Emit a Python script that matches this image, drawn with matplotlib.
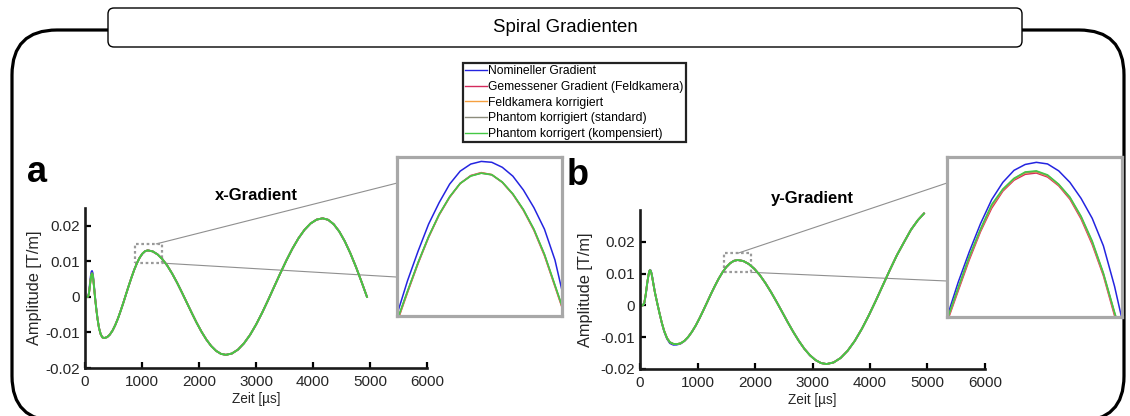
import numpy as np
import matplotlib.pyplot as plt
from matplotlib.patches import FancyBboxPatch, Rectangle, ConnectionPatch
from matplotlib.lines import Line2D

plt.rcParams['font.family'] = ['Liberation Sans', 'DejaVu Sans']

#%% gradient waveforms (time in us, amplitude in T/m)
t_x = [0, 40, 55, 70, 85, 100, 112, 123, 134, 145, 160, 180, 200, 220, 245, 275, 305, 340,
       388, 435, 483, 530, 578, 625, 673, 720, 768, 816, 863, 911, 958, 1006, 1053, 1101,
       1187, 1272, 1358, 1444, 1529, 1615, 1700, 1786, 1872, 1957, 2043, 2129, 2214, 2300, 2385, 2471,
       2577, 2683, 2789, 2896, 3002, 3108, 3214, 3320, 3427, 3533, 3639, 3745, 3851, 3957, 4063, 4169,
       4266, 4364, 4461, 4558, 4655, 4753, 4850, 4947]
gx_meas = [0, 0, 0.0001, 0.0010, 0.0030, 0.0050, 0.0062, 0.0066, 0.0062, 0.0050, 0.0025, -0.0008,
           -0.0037, -0.0062, -0.0087, -0.0105, -0.0114, -0.01156,
           -0.01132, -0.01062, -0.00948, -0.00795, -0.00608, -0.00395, -0.00164, 0.00076, 0.00316,
           0.00547, 0.00760, 0.00947, 0.01100, 0.01214, 0.01284, 0.01308,
           0.01280, 0.01196, 0.01060, 0.00878, 0.00655, 0.00401, 0.00126, -0.00161, -0.00448,
           -0.00723, -0.00977, -0.01200, -0.01382, -0.01518, -0.01602, -0.0163,
           -0.01593, -0.01484, -0.01306, -0.01068, -0.00777, -0.00445, -0.00085, 0.0029, 0.00665,
           0.01025, 0.01357, 0.01648, 0.01886, 0.02064, 0.02173, 0.0221,
           0.02168, 0.02042, 0.01838, 0.01563, 0.01228, 0.00846, 0.00431, 0.0]
gx_nom = [0, 0, 0.0002, 0.0013, 0.0036, 0.0058, 0.0070, 0.0073, 0.0068, 0.0055, 0.0029, -0.0005,
          -0.0035, -0.0061, -0.0087, -0.0105, -0.0114, -0.01156,
          -0.01132, -0.01062, -0.00948, -0.00795, -0.00608, -0.00395, -0.00164, 0.00076, 0.00316,
          0.00547, 0.00760, 0.00947, 0.01100, 0.01214, 0.01284, 0.01308,
          0.01280, 0.01196, 0.01060, 0.00878, 0.00655, 0.00401, 0.00126, -0.00161, -0.00448,
          -0.00723, -0.00977, -0.01200, -0.01382, -0.01518, -0.01602, -0.0163,
          -0.01593, -0.01484, -0.01306, -0.01068, -0.00777, -0.00445, -0.00085, 0.0029, 0.00665,
          0.01025, 0.01357, 0.01648, 0.01886, 0.02064, 0.02173, 0.0221,
          0.02168, 0.02042, 0.01838, 0.01563, 0.01228, 0.00846, 0.00431, 0.0]

t_y = [0, 50, 75, 100, 125, 150, 162, 174, 187, 200, 215, 230, 260, 300, 340, 380, 420, 470,
       520, 580, 638, 704, 771, 837, 903, 970, 1036, 1102, 1169, 1235, 1302, 1368, 1434, 1500,
       1567, 1633, 1699, 1796, 1892, 1989, 2086, 2182, 2279, 2376, 2473, 2569, 2666, 2763, 2859,
       2956, 3053, 3149, 3246, 3368, 3490, 3612, 3735, 3857, 3979, 4101, 4223, 4345, 4467, 4590,
       4712, 4834, 4939]
gy_meas = [0, 0, 0.0008, 0.0035, 0.0070, 0.0098, 0.0107, 0.0111, 0.0108, 0.0100, 0.0086, 0.0070,
           0.0040, 0.0007, -0.0025, -0.0055, -0.0080, -0.0103, -0.0116, -0.0121, -0.01219,
           -0.01194, -0.01118, -0.00996, -0.00831, -0.00631, -0.00402, -0.00154, 0.00104, 0.00362,
           0.00610, 0.00839, 0.01039, 0.01204, 0.01326, 0.01402, 0.01427, 0.01396, 0.01302,
           0.01151, 0.00948, 0.00700, 0.00417, 0.00110, -0.00209, -0.00528, -0.00835, -0.01118,
           -0.01366, -0.01569, -0.01720, -0.01814, -0.01844, -0.01793, -0.01652, -0.01424,
           -0.01117, -0.00742, -0.00315, 0.00148, 0.0063, 0.01112, 0.01575, 0.01982, 0.02377,
           0.02684, 0.0289]
gy_nom = [0, 0, 0.0006, 0.0032, 0.0068, 0.0098, 0.0108, 0.0112, 0.0110, 0.0102, 0.0088, 0.0072,
          0.0041, 0.0007, -0.0025, -0.0056, -0.0082, -0.0105, -0.0119, -0.0124, -0.01235,
          -0.01205, -0.01122, -0.00996, -0.00831, -0.00631, -0.00402, -0.00154, 0.00104, 0.00362,
          0.00610, 0.00839, 0.01039, 0.01204, 0.01326, 0.01402, 0.01427, 0.01396, 0.01302,
          0.01151, 0.00948, 0.00700, 0.00417, 0.00110, -0.00209, -0.00528, -0.00835, -0.01118,
          -0.01366, -0.01569, -0.01720, -0.01814, -0.01844, -0.01793, -0.01652, -0.01424,
          -0.01117, -0.00742, -0.00315, 0.00148, 0.0063, 0.01112, 0.01575, 0.01982, 0.02377,
          0.02684, 0.0289]

# zoomed samples around the marked peak of each gradient
tz_x = [880, 910, 940, 970, 1000, 1030, 1060, 1090, 1120, 1150, 1180, 1210, 1240, 1270, 1300, 1330, 1360]
zx_nom = [0.00955, 0.01070, 0.01170, 0.01262, 0.01335, 0.01398, 0.01442, 0.01466, 0.01475,
          0.01472, 0.01455, 0.01425, 0.01378, 0.01318, 0.01245, 0.01140, 0.00985]
zx_meas = [0.00928, 0.01030, 0.01128, 0.01217, 0.01293, 0.01353, 0.01400, 0.01427, 0.01437,
           0.01430, 0.01404, 0.01363, 0.01309, 0.01241, 0.01155, 0.01050, 0.00944]
zx_fc = [0.00930, 0.01032, 0.01130, 0.01218, 0.01294, 0.01354, 0.01400, 0.01426, 0.01436,
         0.01430, 0.01404, 0.01364, 0.01310, 0.01243, 0.01157, 0.01052, 0.00946]
zx_std = [0.00933, 0.01034, 0.01131, 0.01219, 0.01295, 0.01355, 0.01401, 0.01426, 0.01435,
          0.01429, 0.01404, 0.01364, 0.01311, 0.01244, 0.01159, 0.01054, 0.00948]
zx_comp = [0.00935, 0.01035, 0.01132, 0.01220, 0.01295, 0.01355, 0.01400, 0.01425, 0.01435,
           0.01430, 0.01405, 0.01365, 0.01312, 0.01245, 0.01160, 0.01055, 0.00950]

tz_y = [1460, 1490, 1520, 1550, 1580, 1610, 1640, 1670, 1700, 1730, 1760, 1790, 1820, 1850, 1880, 1910, 1940]
zy_nom = [0.01040, 0.01170, 0.01285, 0.01390, 0.01480, 0.01545, 0.01590, 0.01612, 0.01620,
          0.01614, 0.01588, 0.01545, 0.01485, 0.01410, 0.01307, 0.01155, 0.00970]
zy_meas = [0.01020, 0.01138, 0.01255, 0.01360, 0.01448, 0.01512, 0.01553, 0.01575, 0.01580,
           0.01565, 0.01532, 0.01482, 0.01408, 0.01312, 0.01195, 0.01045, 0.00905]
zy_fc = [0.01025, 0.01144, 0.01262, 0.01365, 0.01455, 0.01516, 0.01557, 0.01580, 0.01584,
         0.01569, 0.01535, 0.01486, 0.01413, 0.01318, 0.01200, 0.01052, 0.00912]
zy_std = [0.01028, 0.01147, 0.01265, 0.01368, 0.01459, 0.01518, 0.01559, 0.01582, 0.01586,
          0.01571, 0.01537, 0.01488, 0.01416, 0.01322, 0.01203, 0.01056, 0.00916]
zy_comp = [0.01030, 0.01150, 0.01268, 0.01370, 0.01462, 0.01520, 0.01560, 0.01584, 0.01588,
           0.01573, 0.01538, 0.01490, 0.01418, 0.01325, 0.01205, 0.01058, 0.00920]

labels = ['Nomineller Gradient', 'Gemessener Gradient (Feldkamera)', 'Feldkamera korrigiert',
          'Phantom korrigiert (standard)', 'Phantom korrigert (kompensiert)']
colors = ['#2424e0', '#d42a5c', '#f5a040', '#8c8c7c', '#44c844']

yticks = [-0.02, -0.01, 0, 0.01, 0.02]
yticklabels = ['-0.02', '-0.01', '0', '0.01', '0.02']
xticks = [0, 1000, 2000, 3000, 4000, 5000, 6000]

W, H = 1130, 416
fig = plt.figure(figsize=(W / 100, H / 100), dpi=100)

def box(x0, y0, x1, y1):
    # pixel box (top-left origin) -> figure fraction rect
    return [x0 / W, 1 - y1 / H, (x1 - x0) / W, (y1 - y0) / H]

#%% frame and heading (background axes in pixel units, y measured upwards)
bg = fig.add_axes([0, 0, 1, 1], zorder=0)
bg.set_xlim(0, W)
bg.set_ylim(0, H)
bg.axis('off')
bg.add_patch(FancyBboxPatch((12, H - 421), 1112, 391, boxstyle='round,pad=0,rounding_size=45',
                            fill=False, ec='black', lw=2.3, clip_on=False))
bg.add_patch(FancyBboxPatch((108, H - 47), 914, 39, boxstyle='round,pad=0,rounding_size=6',
                            fc='white', ec='black', lw=1.0))
bg.text(565, H - 28, 'Spiral Gradienten', ha='center', va='center', fontsize=13.4)


def main_panel(rect, t, nom, meas, ymax, title, letter, letter_pos, ylab_x):
    ax = fig.add_axes(rect, zorder=2)
    # the three corrected curves coincide with the measured one at full scale
    for y, c in zip([nom, meas, meas, meas, meas], colors):
        ax.plot(t, y, color=c, lw=1.3)
    ax.set_xlim(0, 6000)
    ax.set_ylim(-0.02, ymax)
    ax.set_xticks(xticks)
    ax.set_xticklabels([str(v) for v in xticks])
    ax.set_yticks(yticks)
    ax.set_yticklabels(yticklabels)
    for s in ['top', 'right']:
        ax.spines[s].set_visible(False)
    for s in ['left', 'bottom']:
        ax.spines[s].set_linewidth(1.9)
        ax.spines[s].set_color('#1a1a1a')
    ax.tick_params(direction='in', length=4, width=1.6, labelsize=11, labelcolor='#262626')
    ax.tick_params(axis='x', pad=5)
    ax.tick_params(axis='y', pad=3.5)
    ax.patch.set_alpha(0)
    ax.set_ylabel('Amplitude [T/m]', fontsize=11.8, color='#262626')
    ax.yaxis.set_label_coords(ylab_x, 0.5)
    ax.set_xlabel('Zeit [µs]', fontsize=9.8, color='#262626')
    ax.xaxis.set_label_coords(0.5, -0.15)
    ax.text(0.5, 1.075, title, transform=ax.transAxes, ha='center', va='center',
            fontsize=12, fontweight='bold')
    fig.text(letter_pos[0] / W, 1 - letter_pos[1] / H, letter, fontsize=26,
             fontweight='bold', ha='left', va='baseline')
    return ax


def zoom_panel(rect, t, series, xlim, ylim, ax_main, start_up, start_lo, yb_up, yb_lo):
    axz = fig.add_axes(rect, zorder=3)
    for y, c in zip(series, colors):
        axz.plot(t, y, color=c, lw=1.1)
    axz.set_xlim(*xlim)
    axz.set_ylim(*ylim)
    axz.set_xticks([])
    axz.set_yticks([])
    for s in axz.spines.values():
        s.set_color('#a8a8a8')
        s.set_linewidth(2.3)
    ax_main.add_patch(Rectangle((xlim[0], ylim[0]), xlim[1] - xlim[0], ylim[1] - ylim[0],
                                fill=False, ec='#9a9a9a', lw=1.6, ls=(0, (1.2, 1.2))))
    for xyA, yb in [(start_up, yb_up), (start_lo, yb_lo)]:
        con = ConnectionPatch(xyA=xyA, coordsA=ax_main.transData, xyB=(0, yb),
                              coordsB=axz.transAxes, color='#8f8f8f', lw=0.8)
        fig.add_artist(con)
    return axz


ax_a = main_panel(box(85, 208, 427, 368), t_x, gx_nom, gx_meas, 0.025, 'x-Gradient', 'a',
                  (27, 182), -0.126)
ax_b = main_panel(box(640, 210, 985, 369), t_y, gy_nom, gy_meas, 0.03, 'y-Gradient', 'b',
                  (567, 185), -0.136)

zoom_panel(box(397, 157, 562, 316), tz_x, [zx_nom, zx_meas, zx_fc, zx_std, zx_comp],
           (880, 1350), (0.0095, 0.0149), ax_a, (1250, 0.0149), (1350, 0.0095), 0.836, 0.245)
zoom_panel(box(947, 157, 1122, 317), tz_y, [zy_nom, zy_meas, zy_fc, zy_std, zy_comp],
           (1460, 1930), (0.0104, 0.0164), ax_b, (1700, 0.0164), (1930, 0.0104), 0.8375, 0.225)

#%% legend
handles = [Line2D([], [], color=c, lw=1.0) for c in colors]
leg = fig.legend(handles, labels, loc='upper left', bbox_to_anchor=(463 / W, 1 - 63 / H),
                 borderaxespad=0, fontsize=8.7, handlelength=1.75, handletextpad=0.1,
                 labelspacing=0.3, borderpad=0.2, fancybox=False, framealpha=1,
                 edgecolor='#222222')
leg.get_frame().set_linewidth(1.6)
leg.set_zorder(5)

fig.savefig('out.png', dpi=100)
